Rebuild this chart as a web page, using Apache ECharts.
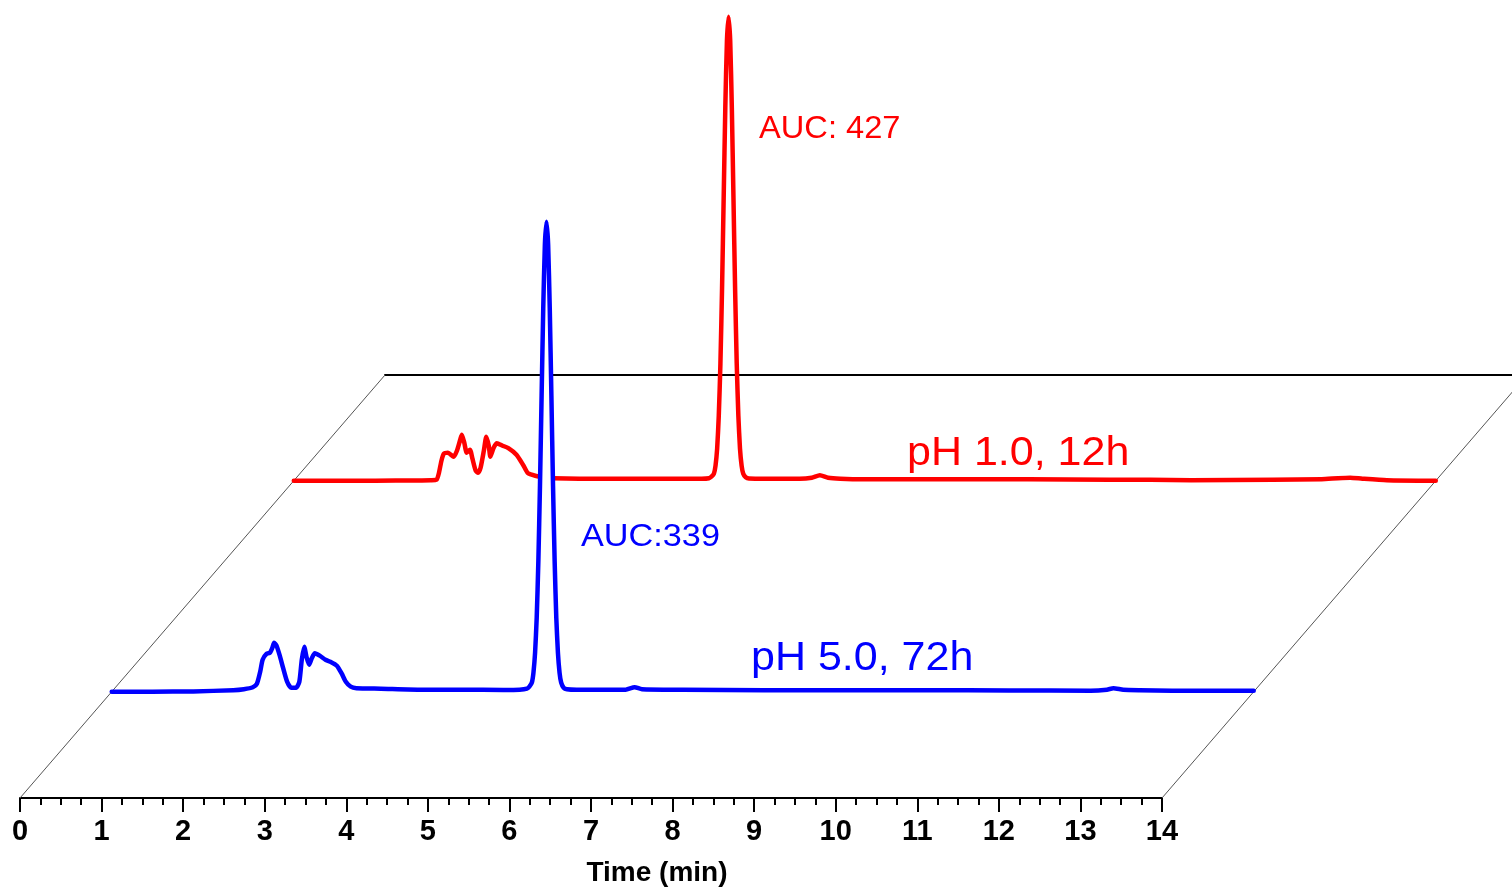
<!DOCTYPE html>
<html>
<head>
<meta charset="utf-8">
<script src="https://cdn.jsdelivr.net/npm/echarts@6/dist/echarts.min.js"></script>
<style>
html,body{margin:0;padding:0;background:#fff;}
#chart{width:1512px;height:889px;}
</style>
</head>
<body>
<div id="chart"></div>
<script>
// ---- data (time in min, signal in arbitrary units above each trace's baseline) ----
const xTicks = [0,1,2,3,4,5,6,7,8,9,10,11,12,13,14];

const blueName = 'pH 5.0, 72h';
const blueAUC = 'AUC:339';
const blueTime = [0,0.5,1.0,1.49,1.62,1.73,1.78,1.82,1.85,1.90,1.94,1.97,1.99,2.02,2.06,2.10,2.15,2.20,2.26,2.30,2.33,2.36,2.39,2.42,2.45,2.49,2.55,2.62,2.68,2.76,2.82,2.87,2.93,3.0,3.3,3.8,4.3,4.8,5.0,5.09,5.12,
  5.15,5.17,5.19,5.21,5.23,5.25,5.27,5.29,5.31,5.33,5.35,5.37,5.39,5.41,5.43,5.45,5.47,5.49,5.51,5.54,
  5.58,5.7,6.0,6.3,6.41,6.5,7.0,8.0,9.0,10.0,11.0,12.0,12.2,12.28,12.4,12.6,13.0,14.0];
const blueSignal = [0,0,0.3,1.5,2.5,4.5,8,20,32,38,39,44,49,46,36,24,10,4,4,10,32,45,34,27,33,38.5,36,32,30,26,18,10,5,3.5,3,2,2,1.8,2,3,5,
  9,19,39,74,130,206,296,383,447,470,447,383,296,206,130,74,39,19,9,4,
  2.5,2,2,2,4.5,2.5,2,1.5,1.5,1.5,1.2,1,2,3.5,2,1.5,1,1];

const redName = 'pH 1.0, 12h';
const redAUC = 'AUC: 427';
const redTime = [0,0.5,1.0,1.5,1.68,1.75,1.78,1.81,1.84,1.89,1.96,2.00,2.04,2.06,2.09,2.12,2.16,2.19,2.23,2.26,2.29,2.33,2.36,2.39,2.41,2.45,2.49,2.56,2.63,2.73,2.81,2.87,2.96,3.1,3.18,3.5,4.0,4.5,5.0,5.09,5.12,
  5.15,5.17,5.19,5.21,5.23,5.25,5.27,5.29,5.31,5.33,5.35,5.37,5.39,5.41,5.43,5.45,5.47,5.49,5.51,5.54,
  5.58,5.8,6.2,6.35,6.45,6.55,6.7,7.0,8.0,9.0,10.0,10.5,11.0,12.0,12.6,12.8,12.95,13.1,13.4,14.0];
const redSignal = [0,0,0,0.3,0.5,1,8,20,27,28,24,30,41,46,38,28,31,22,10,8,13,30,44,35,24,33,37.5,35,32.5,26,16,7.5,5,3,2.4,2,2,2,2,2.5,4,
  7,15,32,65,117,192,283,373,440,464,440,373,283,192,117,65,32,15,7,3.5,
  2.2,2,2,3,5.5,3,2,1.5,1.5,1.5,1,1,0.5,1,1.5,2.5,3,2,0.5,0];

// ---- layout ----
const W = 1142;                 // length of one time axis (0..14) in px
const frontLeft = 20, frontY = 798;
const backLeft = 385, backY = 375;
const dxPerPx = (backLeft - frontLeft) / (frontY - backY);
const blueBase = 691.7, redBase = 480.7;
const blueLeft = frontLeft + (frontY - blueBase) * dxPerPx;
const redLeft = frontLeft + (frontY - redBase) * dxPerPx;
const FONT = 'Arial, "Liberation Sans", sans-serif';

const chart = echarts.init(document.getElementById('chart'), null, {renderer:'canvas'});
const hiddenX = (g) => ({gridIndex:g, type:'value', min:0, max:14, show:false});
const hiddenY = (g, max) => ({gridIndex:g, type:'value', min:0, max:max, show:false});

const option = {
  backgroundColor:'#ffffff',
  animation:false,
  grid:[
    {left:frontLeft, width:W, top:frontY-100, height:100, containLabel:false},
    {left:blueLeft, width:W, top:blueBase-500, height:500, containLabel:false},
    {left:redLeft, width:W, top:redBase-480, height:480, containLabel:false},
    {left:backLeft, width:W, top:backY-10, height:10, containLabel:false}
  ],
  xAxis:[
    {gridIndex:0, type:'value', min:0, max:14, interval:1,
     axisLine:{show:true, lineStyle:{color:'#000', width:2}},
     axisTick:{show:true, inside:false, length:14, lineStyle:{color:'#000', width:2}},
     minorTick:{show:true, splitNumber:4, length:7, lineStyle:{color:'#000', width:2}},
     splitLine:{show:false},
     axisLabel:{show:true, margin:19, color:'#000', fontSize:29, fontWeight:'bold', fontFamily:FONT,
       formatter:(v)=> xTicks.includes(v) ? String(v) : ''},
     name:'Time (min)', nameLocation:'middle', nameGap:61,
     nameTextStyle:{color:'#000', fontSize:28, fontWeight:'bold', fontFamily:FONT, padding:[0,0,0,132]}
    },
    hiddenX(1), hiddenX(2),
    {gridIndex:3, type:'value', min:0, max:14, position:'bottom',
     axisLine:{show:true, lineStyle:{color:'#000', width:2}}, axisTick:{show:false}, axisLabel:{show:false}, splitLine:{show:false}}
  ],
  yAxis:[
    {gridIndex:0, type:'value', show:false},
    hiddenY(1, 500), hiddenY(2, 480),
    {gridIndex:3, type:'value', show:false}
  ],
  series:[
    {name:redName, type:'line', xAxisIndex:2, yAxisIndex:2, z:3, symbol:'none', smooth:0.2, clip:false,
     lineStyle:{color:'#ff0000', width:4.5, join:'round', cap:'round'},
     data: redTime.map((t,i)=>[t, redSignal[i]])},
    {name:blueName, type:'line', xAxisIndex:1, yAxisIndex:1, z:4, symbol:'none', smooth:0.2, clip:false,
     lineStyle:{color:'#0000ff', width:4.5, join:'round', cap:'round'},
     areaStyle:{color:'#ffffff', opacity:1},
     data: blueTime.map((t,i)=>[t, blueSignal[i]])}
  ],
  graphic:[
    {type:'line', z:1, silent:true, shape:{x1:frontLeft, y1:frontY, x2:backLeft, y2:backY}, style:{stroke:'#555', lineWidth:1}},
    {type:'line', z:1, silent:true, shape:{x1:frontLeft+W, y1:frontY, x2:backLeft+W, y2:backY}, style:{stroke:'#555', lineWidth:1}},
    {type:'text', z:10, x:759, y:129, scaleX:1.02, style:{text:redAUC, fill:'#ff0000', fontSize:32, fontFamily:FONT, verticalAlign:'middle', align:'left'}},
    {type:'text', z:10, x:907, y:454, scaleX:1.075, style:{text:redName, fill:'#ff0000', fontSize:40, fontFamily:FONT, verticalAlign:'middle', align:'left'}},
    {type:'text', z:10, x:581, y:537, scaleX:1.07, style:{text:blueAUC, fill:'#0000ff', fontSize:32, fontFamily:FONT, verticalAlign:'middle', align:'left'}},
    {type:'text', z:10, x:751, y:659, scaleX:1.075, style:{text:blueName, fill:'#0000ff', fontSize:40, fontFamily:FONT, verticalAlign:'middle', align:'left'}}
  ]
};
chart.setOption(option);
</script>
</body>
</html>
